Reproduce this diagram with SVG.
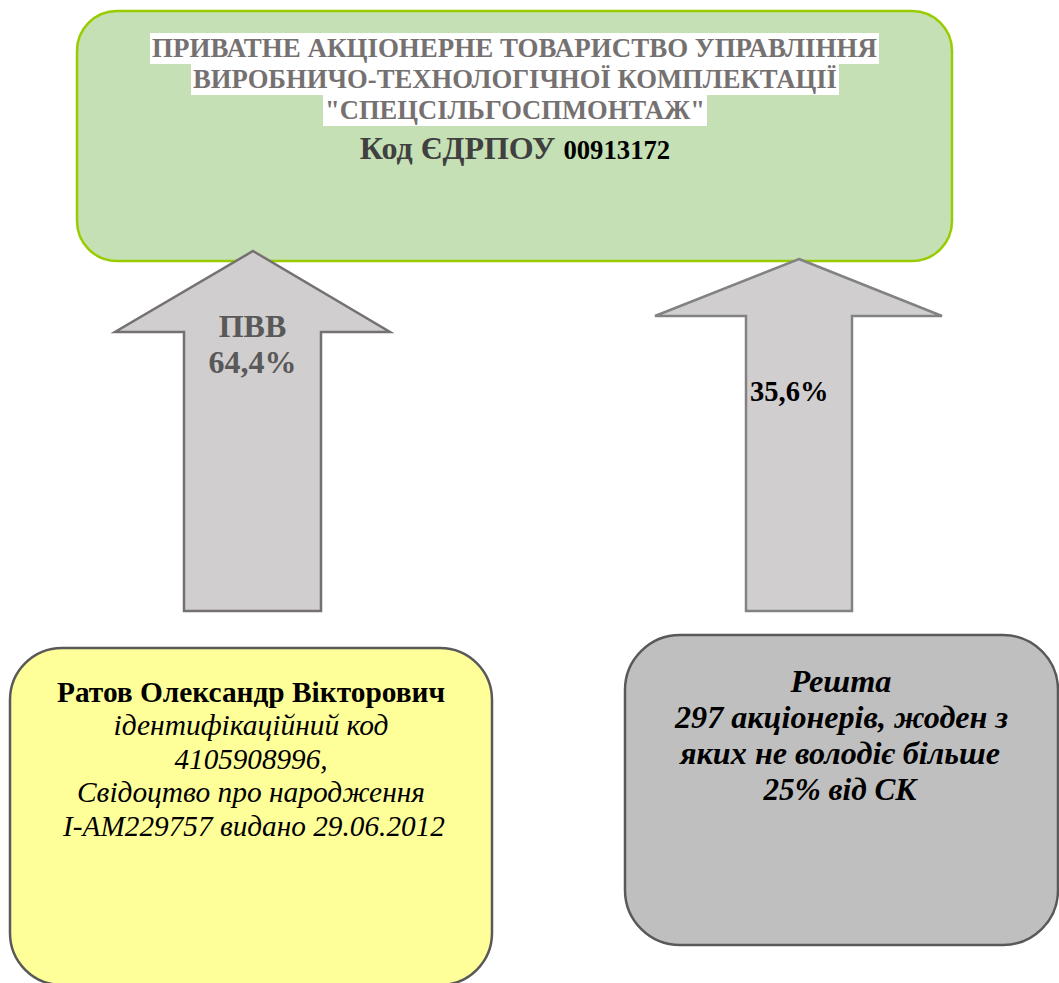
<svg xmlns="http://www.w3.org/2000/svg" width="1059" height="983" viewBox="0 0 1059 983">
  <style>
    .serif { font-family: "Liberation Serif", "Times New Roman", serif; }
    .title { font-weight: bold; font-size: 26.7px; fill: #767171; text-anchor: middle; }
    .hl { fill: #ffffff; }
    .code { font-weight: bold; text-anchor: middle; }
    .arrow { fill: #d0cece; stroke-width: 2.5; stroke-linejoin: miter; }
    .alabel { font-weight: bold; font-size: 32px; fill: #595959; text-anchor: middle; }
    .box { stroke: #595959; stroke-width: 2.5; }
    .t29 { font-size: 29.3px; fill: #000; text-anchor: middle; }
    .t32 { font-size: 32px; fill: #000; text-anchor: middle; font-weight: bold; font-style: italic; }
  </style>

  <g id="node-company">
    <rect x="77" y="11" width="875" height="250" rx="40" ry="40" fill="#c5e0b4" stroke="#99cc00" stroke-width="2.5"/>
    <rect class="hl" x="150" y="33" width="729" height="31"/>
    <rect class="hl" x="191" y="63.5" width="648" height="31.5"/>
    <rect class="hl" x="323" y="94.5" width="384" height="31.5"/>
    <text class="serif title" x="514.5" y="57" textLength="725" lengthAdjust="spacingAndGlyphs">ПРИВАТНЕ АКЦІОНЕРНЕ ТОВАРИСТВО УПРАВЛІННЯ</text>
    <text class="serif title" x="515" y="88" textLength="644" lengthAdjust="spacingAndGlyphs">ВИРОБНИЧО-ТЕХНОЛОГІЧНОЇ КОМПЛЕКТАЦІЇ</text>
    <text class="serif title" x="515" y="119" textLength="380" lengthAdjust="spacingAndGlyphs">"СПЕЦСІЛЬГОСПМОНТАЖ"</text>
    <text class="serif code" x="515" y="159"><tspan font-size="32px" fill="#404040">Код ЄДРПОУ </tspan><tspan font-size="26.7px" fill="#000000">00913172</tspan></text>
  </g>

  <g id="connectors">
    <path class="arrow" stroke="#767171" d="M253,251 L390,332 L321,332 L321,611 L184,611 L184,332 L115,332 Z"/>
    <text class="serif alabel" x="252.5" y="337">ПВВ</text>
    <text class="serif alabel" x="252.5" y="373">64,4%</text>
    <path class="arrow" stroke="#828282" d="M799,259 L942,316 L852,316 L852,611 L746,611 L746,316 L655,316 Z"/>
    <text class="serif" x="750" y="401" font-size="28.5px" font-weight="bold" fill="#000000">35,6%</text>
  </g>

  <g id="node-ratov">
    <rect class="box" x="10" y="648" width="482" height="337" rx="52" ry="52" fill="#ffff99"/>
    <text class="serif t29" x="251" y="702" font-weight="bold" textLength="388" lengthAdjust="spacingAndGlyphs">Ратов Олександр Вікторович</text>
    <text class="serif t29" x="251" y="735" font-style="italic" textLength="275" lengthAdjust="spacingAndGlyphs">ідентифікаційний код</text>
    <text class="serif t29" x="251" y="768.5" font-style="italic" textLength="153" lengthAdjust="spacingAndGlyphs">4105908996,</text>
    <text class="serif t29" x="251" y="802" font-style="italic" textLength="348" lengthAdjust="spacingAndGlyphs">Свідоцтво про народження</text>
    <text class="serif t29" x="254" y="836" font-style="italic" textLength="382" lengthAdjust="spacingAndGlyphs">I-AM229757 видано 29.06.2012</text>
  </g>

  <g id="node-rest">
    <rect class="box" x="625" y="635" width="433" height="310" rx="55" ry="55" fill="#bfbfbf"/>
    <text class="serif t32" x="841" y="691.5" textLength="101" lengthAdjust="spacingAndGlyphs">Решта</text>
    <text class="serif t32" x="841.5" y="727.5" textLength="333" lengthAdjust="spacingAndGlyphs">297 акціонерів, жоден з</text>
    <text class="serif t32" x="840" y="763.5" textLength="320" lengthAdjust="spacingAndGlyphs">яких не володіє більше</text>
    <text class="serif t32" x="840" y="800" textLength="153" lengthAdjust="spacingAndGlyphs">25% від СК</text>
  </g>
</svg>
